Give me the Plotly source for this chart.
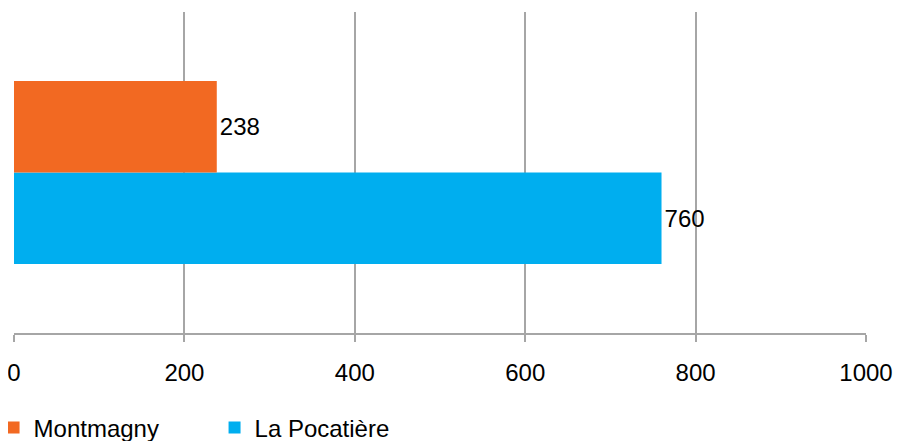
import plotly.graph_objects as go

categories = [""]
series_names = ["Montmagny", "La Pocatière"]
montmagny = [238]
la_pocatiere = [760]
colors = {"Montmagny": "#F26922", "La Pocatière": "#00AEEF"}
x_ticks = [0, 200, 400, 600, 800, 1000]

FONT = "Liberation Sans, Arial, sans-serif"

fig = go.Figure()
# Plotly stacks horizontal grouped bars bottom-up, so add La Pocatière first
fig.add_trace(go.Bar(
    y=categories, x=la_pocatiere, name="La Pocatière", orientation="h",
    marker=dict(color=colors["La Pocatière"], line=dict(width=0)),
    text=[str(v) for v in la_pocatiere], textposition="outside",
    textfont=dict(family=FONT, size=24, color="#000000"), cliponaxis=False,
))
fig.add_trace(go.Bar(
    y=categories, x=montmagny, name="Montmagny", orientation="h",
    marker=dict(color=colors["Montmagny"], line=dict(width=0)),
    text=[str(v) for v in montmagny], textposition="outside",
    textfont=dict(family=FONT, size=24, color="#000000"), cliponaxis=False,
))

# page body adds an 8px margin, so the figure is sized 894x433
fig.update_layout(
    width=894, height=433,
    margin=dict(l=6, r=36, t=4, b=108, autoexpand=False),
    paper_bgcolor="white", plot_bgcolor="white",
    barmode="group", bargap=0.43, bargroupgap=0,
    font=dict(family=FONT, size=24, color="#000000"),
    showlegend=True,
    legend=dict(
        orientation="h", xref="paper", x=-0.024, xanchor="left",
        yref="container", y=0.03, yanchor="middle",
        traceorder="reversed", entrywidth=176, entrywidthmode="pixels",
        font=dict(family=FONT, size=24, color="#000000"),
        itemclick=False, itemdoubleclick=False,
    ),
    xaxis=dict(
        range=[0, 1000], tickvals=x_ticks, ticktext=[str(t) for t in x_ticks],
        automargin=False, ticklabeloverflow="allow",
        showgrid=True, gridcolor="#A6A6A6", gridwidth=1.5,
        zeroline=False,
        showline=True, linecolor="#A6A6A6", linewidth=1.5,
        ticks="outside", ticklen=7, tickcolor="#A6A6A6", tickwidth=1.5,
        tickfont=dict(family=FONT, size=24, color="#000000"),
        ticklabelstandoff=10,
    ),
    yaxis=dict(showticklabels=False, showgrid=False, zeroline=False, showline=False,
               ticks="", automargin=False),
)

fig.write_html("out.html")
